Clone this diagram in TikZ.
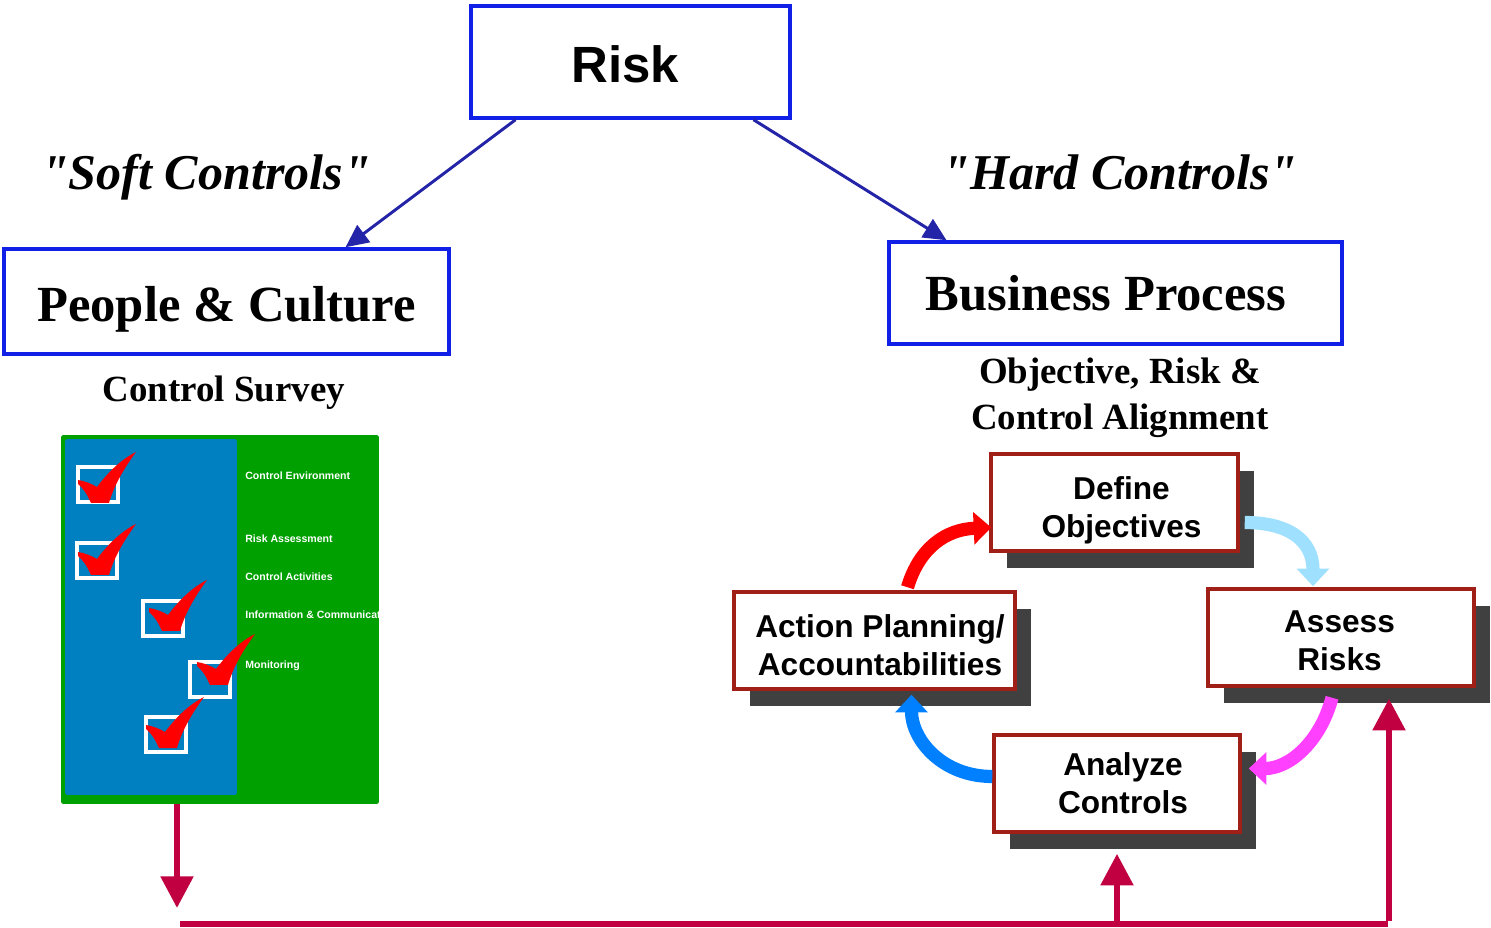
\documentclass[tikz,border=0pt]{standalone}
\usepackage{fontspec}
\setmainfont{Liberation Serif}
\newfontfamily\arialfont{Liberation Sans}
\newfontfamily\plainserif{Liberation Serif}[Ligatures=TeXOff]
\usepackage{tikz}
\usetikzlibrary{arrows.meta,calc,shadows}
\definecolor{box-blue}{RGB}{16,32,230}
\definecolor{link-blue}{RGB}{36,36,168}
\definecolor{step-red}{RGB}{160,32,24}
\definecolor{shade-gray}{RGB}{64,64,64}
\definecolor{survey-green}{RGB}{0,160,0}
\definecolor{survey-blue}{RGB}{0,128,192}
\definecolor{feed-red}{RGB}{192,0,64}
\definecolor{tick-red}{RGB}{255,0,0}
\definecolor{arc-red}{RGB}{255,0,0}
\definecolor{arc-sky}{RGB}{160,224,255}
\definecolor{arc-pink}{RGB}{255,64,255}
\definecolor{arc-blue}{RGB}{0,128,255}

\begin{document}
\begin{tikzpicture}[
    x=0.02cm, y=-0.02cm,
    topbox/.style={rectangle,draw=box-blue,line width=2pt,inner sep=0pt},
    headfont/.style={font=\bfseries\fontsize{28.8}{32}\selectfont},
    quotefont/.style={anchor=base,font=\plainserif\bfseries\itshape\fontsize{28.5}{32}\selectfont},
    subfont/.style={font=\bfseries\fontsize{21}{26}\selectfont,align=center},
    stepbox/.style={rectangle,draw=step-red,line width=2pt,fill=white,
        minimum height=1.94cm,inner sep=0pt,
        general shadow={fill=shade-gray,rounded corners=1.5pt,shadow xshift=0.32cm,shadow yshift=-0.34cm}},
    steptext/.style={align=center,inner sep=0pt,font=\arialfont\bfseries\fontsize{18}{21.5}\selectfont},
    tolink/.style={draw=link-blue,line width=1.7pt,-{Triangle[width=12pt,length=13pt]}},
    cyclearrow/.style={line width=7.5pt,-{Triangle[width=18pt,length=10pt]}},
    feedline/.style={draw=feed-red,line width=3pt},
    feedarrow/.style={draw=feed-red,line width=3.6pt,-{Triangle[width=18pt,length=18pt]}},
    itemtext/.style={anchor=west,text=white,inner sep=0pt,font=\arialfont\bfseries\fontsize{6}{7}\selectfont}
]
\useasboundingbox (0,0) rectangle (1491,928);

\node[topbox,minimum width=6.38cm,minimum height=2.24cm,
    label={[font=\arialfont\bfseries\fontsize{29}{34}\selectfont,xshift=-0.1cm,yshift=-0.04cm]center:Risk}] (risk) at (630.5,62) {};
\node[topbox,minimum width=8.9cm,minimum height=2.1cm,
    label={[headfont,yshift=-0.16cm]center:People \& Culture}] (people) at (226.5,301.5) {};
\node[topbox,minimum width=9.06cm,minimum height=2.04cm,
    label={[headfont,xshift=-0.19cm]center:Business Process}] (business) at (1115.5,293) {};

\node[quotefont] (soft) at (206,190) {"Soft Controls"};
\node[quotefont] (hard) at (1120,190) {"Hard Controls"};

\draw[tolink] ($(risk.south)+(-115,0)$) -- ($(people.north)+(119,0)$);
\draw[tolink] ($(risk.south)+(123,0)$) -- ($(business.north)+(-169,0)$);

\node[subfont] (surveytitle) at (224,393) {Control Survey};
\node[subfont] (alignment) at (1120,398) {Objective, Risk \&\\Control Alignment};

% control survey sheet
\node[fill=survey-green,rounded corners=1pt,minimum width=6.36cm,minimum height=7.38cm] (survey) at (220,619.5) {};
\node[fill=survey-blue,rounded corners=1pt,minimum width=3.44cm,minimum height=7.12cm] (sheet) at (151,617) {};
\begin{scope}
    \clip (survey.south west) rectangle (survey.north east);
    \node[itemtext] (env) at (245,476) {Control Environment};
    \node[itemtext] (assessment) at (245,539) {Risk Assessment};
    \node[itemtext] (activities) at (245,577) {Control Activities};
    \node[itemtext] (info) at (245,615) {Information \& Communication};
    \node[itemtext] (monitoring) at (245,666) {Monitoring};
\end{scope}
\foreach \bx/\by/\tx/\ty in {78/467/78/480, 77/543/78/552, 143/601/149/608, 190/662/197/662, 146/717/146/725}{
    \draw[white,line width=2pt] (\bx,\by) rectangle ++(40,35);
    \fill[tick-red,shift={(\tx,\ty)}] (0,0) .. controls (7,1) and (14,4) .. (19,7)
        .. controls (31,-9) and (44,-21) .. (58,-28)
        .. controls (47,-13) and (36,5) .. (31,23) -- (13,23)
        .. controls (9,14) and (5,8) .. (0,4) -- cycle;
}

% alignment cycle
\node[stepbox,minimum width=4.94cm,
    label={[steptext,xshift=0.14cm,yshift=-0.16cm]center:{Define\\Objectives}}] (define) at (1114.5,502.5) {};
\node[stepbox,minimum width=5.32cm,
    label={[steptext,xshift=-0.03cm,yshift=-0.06cm]center:{Assess\\Risks}}] (assess) at (1341,637.5) {};
\node[stepbox,minimum width=4.92cm,
    label={[steptext,xshift=0.12cm]center:{Analyze\\Controls}}] (analyze) at (1117,783.5) {};
\node[stepbox,minimum width=5.62cm,
    label={[steptext,xshift=0.11cm,yshift=-0.1cm]center:{Action Planning/\\Accountabilities}}] (action) at (874.5,640.5) {};

\draw[cyclearrow,arc-red] ($(action.north)+(33,-3)$) .. controls +(12,-40) and +(-45,2) .. ($(define.west)+(2,25)$);
\draw[cyclearrow,arc-sky] ($(define.east)+(5,20)$) .. controls +(45,0) and +(0,-45) .. ($(assess.north)+(-28,-1)$);
\draw[cyclearrow,arc-pink] ($(assess.south)+(-9,10)$) .. controls +(-12,45) and +(40,0) .. ($(analyze.east)+(7,-15)$);
\draw[cyclearrow,arc-blue] ($(analyze.west)+(0,-7)$) .. controls +(-50,0) and +(0,45) .. ($(action.south)+(37,4)$);

% feedback lines
\coordinate (fbl) at (180,924);
\coordinate (fbr) at (1388,924);
\coordinate (drop) at (177,908);
\draw[feedline] (fbl) -- (fbr);
\draw[feedarrow] (survey.south -| drop) -- (drop);
\draw[feedarrow] (analyze.south |- fbl) -- ($(analyze.south)+(0,20)$);
\draw[feedarrow] ($(assess.south |- fbl)+(48,-3)$) -- ($(assess.south)+(48,11)$);
\end{tikzpicture}
\end{document}
